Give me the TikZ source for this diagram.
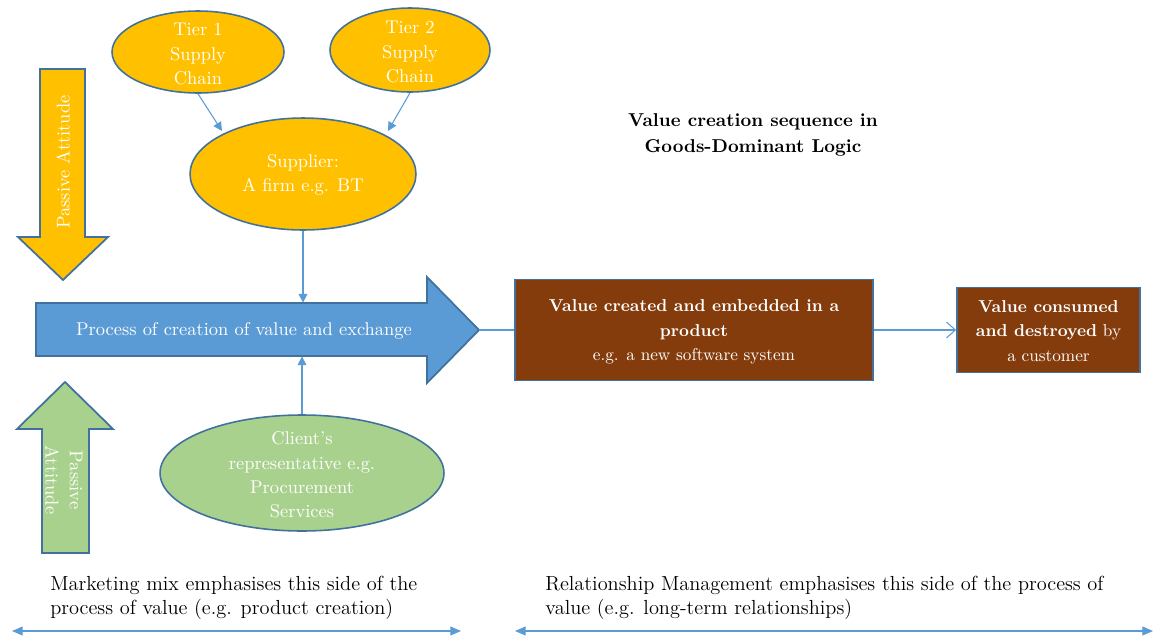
\documentclass[tikz,border=0pt]{standalone}
\usepackage{fontspec}
\usetikzlibrary{arrows.meta,shapes.geometric}
\definecolor{gold}{HTML}{FFC000}
\definecolor{edgeblue}{HTML}{41719C}
\definecolor{flowblue}{HTML}{5B9BD5}
\definecolor{leaf}{HTML}{A9D18E}
\definecolor{rust}{HTML}{843C0C}
\newcommand\bodyfont{\rmfamily\fontsize{10.5pt}{13.8pt}\selectfont}
\newcommand\boxfont{\rmfamily\fontsize{9.8pt}{13.8pt}\selectfont}
\newcommand\notefont{\rmfamily\fontsize{11.6pt}{13.6pt}\selectfont}

\tikzset{
  blob/.style={ellipse, draw=edgeblue, line width=0.9pt, inner sep=0pt},
  goldblob/.style={blob, fill=gold},
  leafblob/.style={blob, fill=leaf},
  inner/.style={text=white, align=center, font=\bodyfont, inner sep=0pt},
  boxtext/.style={inner, font=\boxfont},
  rustbox/.style={draw=edgeblue, line width=1pt, fill=rust, inner sep=0pt},
  bigarrow/.style={draw=edgeblue, line width=1pt},
  link/.style={draw=flowblue, line width=0.6pt},
  tip/.style={-{Triangle[length=5pt,width=5pt]}},
  opentip/.style={-{Straight Barb[length=5pt,width=9pt,line width=0.6pt]}},
  span/.style={{Triangle[length=6pt,width=5pt]}-{Triangle[length=6pt,width=5pt]}, draw=flowblue, line width=0.6pt},
  note/.style={align=left, anchor=north west, font=\notefont, text=black, inner sep=0pt},
}

\begin{document}
\begin{tikzpicture}[x=0.02cm, y=-0.02cm]
\useasboundingbox (0,0) rectangle (1154,640);

% supply chain ellipses
\node (tier1) [goldblob, minimum width=3.44cm, minimum height=1.64cm] at (198,52) {};
\node [inner] at (198,54) {Tier 1\\Supply\\Chain};
\node (tier2) [goldblob, minimum width=3.2cm, minimum height=1.68cm] at (410,50) {};
\node [inner] at (410,52) {Tier 2\\Supply\\Chain};
\node (sup) [goldblob, minimum width=4.52cm, minimum height=2.24cm] at (303,174) {};
\node [inner] at (303,175) {Supplier:\\A firm e.g. BT};

% passive attitude, pointing down
\draw [bigarrow, fill=gold] (40,69) -- (85,69) -- (85,237) -- (108,237) -- (63,280)
  -- (18,237) -- (40,237) -- cycle;
\node [inner, rotate=90] at (63,162) {Passive Attitude};

% passive attitude, pointing up
\draw [bigarrow, fill=leaf] (42,553) -- (89,553) -- (89,429) -- (113,429) -- (65,382)
  -- (17,429) -- (42,429) -- cycle;
\node [inner, rotate=-90] at (64,480) {Passive\\Attitude};

% main process arrow
\draw [bigarrow, fill=flowblue] (36,303) -- (427,303) -- (427,277) -- (479,330)
  -- (427,383) -- (427,356) -- (36,356) -- cycle;
\coordinate (procTip) at (479,330);
\node (shaft) [minimum width=7.82cm, minimum height=1.06cm, inner sep=0pt] at (231.5,329.5) {};
\node [inner] at (244,331) {Process of creation of value and exchange};

% client ellipse
\node (client) [leafblob, minimum width=5.68cm, minimum height=2.32cm] at (302,473) {};
\node [inner] at (302,475) {Client’s\\representative e.g.\\Procurement\\Services};

% value boxes
\node (made) [rustbox, minimum width=7.16cm, minimum height=2.02cm] at (694,330) {};
\node [boxtext] at (694,332) {\textbf{Value created and embedded in a}\\\textbf{product}\\e.g. a new software system};
\node (used) [rustbox, minimum width=3.66cm, minimum height=1.7cm] at (1048.5,330) {};
\node [boxtext] at (1048.5,331) {\textbf{Value consumed}\\\textbf{and destroyed} by\\a customer};

% title
\node (title) [align=center, font=\rmfamily\bfseries\fontsize{10.6pt}{14.5pt}\selectfont, inner sep=0pt] at (753,135)
  {Value creation sequence in\\Goods-Dominant Logic};

% connectors
\draw [link, tip] (tier1.south) -- (222,131);
\draw [link, tip] (tier2.south) -- (388,131);
\draw [link, tip] (sup.south) -- (sup.south |- shaft.north);
\draw [link, tip] (client.north) -- (client.north |- shaft.south);
\draw [link] (procTip) -- (made.west);
\draw [link, opentip] (made.east) -- (used.west);

% bottom notes
\node (mix) [note] at (50,576) {Marketing mix emphasises this side of the\\process of value (e.g. product creation)};
\node (rel) [note] at (545,576) {Relationship Management emphasises this side of the process of\\value (e.g. long-term relationships)};
\coordinate (mixL) at (12,631);
\coordinate (mixR) at (461,631);
\coordinate (relL) at (515,631);
\coordinate (relR) at (1153,631);
\draw [span] (mixL) -- (mixR);
\draw [span] (relL) -- (relR);
\end{tikzpicture}
\end{document}
